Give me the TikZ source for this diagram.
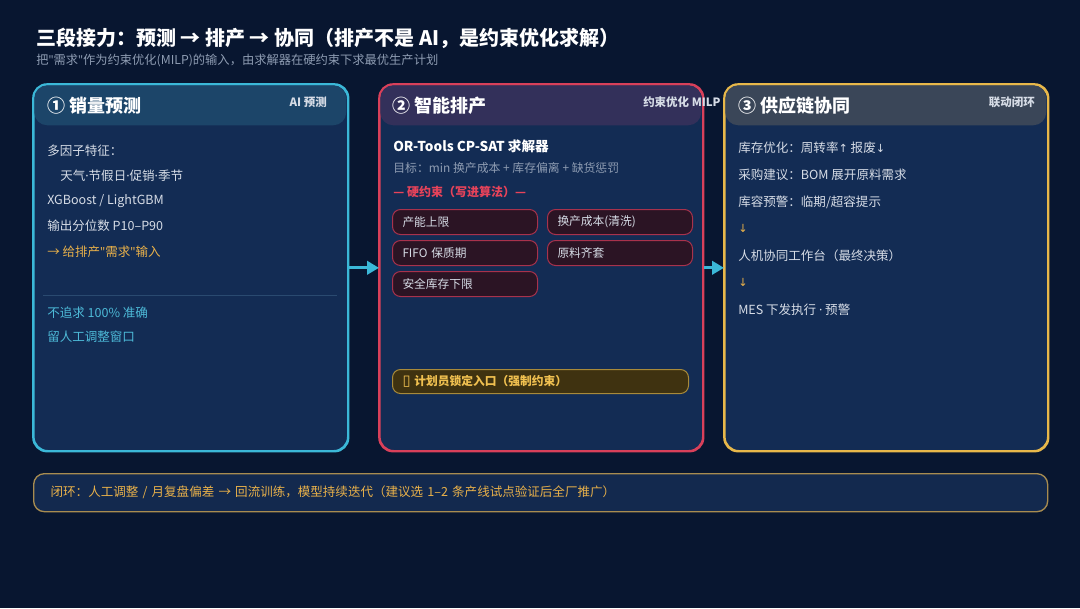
\documentclass[tikz,border=0pt]{standalone}
\usepackage{fontspec}
\setmainfont{Noto Sans CJK SC}
\newfontfamily\dejavu{DejaVu Sans}
\newfontfamily\latin{Noto Sans}
\newcommand\dq{{\latin\char"22\relax}}
\newcommand\md{{\latin ·}}
\usetikzlibrary{arrows.meta}
\definecolor{bg}{HTML}{081630}
\definecolor{cardfill}{HTML}{132C54}
\definecolor{hdrA}{HTML}{1C4569}
\definecolor{hdrB}{HTML}{33305A}
\definecolor{hdrC}{HTML}{3A4658}
\definecolor{bcyan}{HTML}{3BB8D8}
\definecolor{bred}{HTML}{D9405A}
\definecolor{bamber}{HTML}{E8B84A}
\definecolor{bodytxt}{HTML}{D6DCE6}
\definecolor{ambertxt}{HTML}{E9B14A}
\definecolor{cyantxt}{HTML}{4DBAD8}
\definecolor{graytxt}{HTML}{8E9CB2}
\definecolor{redtxt}{HTML}{E8435A}
\definecolor{pillfill}{HTML}{2B1424}
\definecolor{pillborder}{HTML}{A8324C}
\definecolor{lockfill}{HTML}{3F3210}
\definecolor{lockborder}{HTML}{A88A3A}
\definecolor{locktxt}{HTML}{F0C050}
\definecolor{bannerfill}{HTML}{13294E}
\definecolor{bannerborder}{HTML}{A88C50}
\definecolor{septxt}{HTML}{2A4A70}
\begin{document}
\begin{tikzpicture}[x=0.75pt,y=-0.75pt,
  card/.style={line width=1.2pt, rounded corners=10.5pt, fill=cardfill, anchor=north west,
    minimum height=274.5pt, inner sep=0pt},
  hdr/.style={rounded corners=9.75pt, anchor=north west, minimum height=30pt, minimum width=234pt, inner sep=0pt},
  ctitle/.style={anchor=west, inner sep=0pt, text=white, font=\fontsize{13.5}{16}\selectfont\bfseries},
  ctag/.style={anchor=east, inner sep=0pt, text=bodytxt, font=\fontsize{8.6}{10}\selectfont\bfseries},
  txt/.style={anchor=west, inner sep=0pt, text=bodytxt, font=\fontsize{9.4}{11}\selectfont},
  pill/.style={draw=pillborder, fill=pillfill, line width=0.75pt, rounded corners=6pt, anchor=north west,
    minimum height=18.75pt, inner xsep=7.5pt, inner ysep=0pt, text width=93.75pt, align=left,
    text=bodytxt, font=\fontsize{8.8}{10}\selectfont},
  flow/.style={draw=bcyan, line width=2.2pt, -{Triangle[length=9pt,width=10pt]}}
]
\fill[bg] (0,0) rectangle (1080,608);
\useasboundingbox (0,0) rectangle (1080,608);

% title
\node[anchor=west, inner sep=0pt, text=white, font=\fontsize{15}{18}\selectfont\bfseries] (title) at (36,38)
  {三段接力：预测 → 排产 → 协同（排产不是 AI，是约束优化求解）};
\node[anchor=west, inner sep=0pt, text=graytxt, font=\fontsize{9.2}{11}\selectfont] (subtitle) at (36,61)
  {把\dq 需求\dq 作为约束优化(MILP)的输入，由求解器在硬约束下求最优生产计划};

% cards
\node[card, draw=bcyan, minimum width=235.5pt] (c1) at (33,84) {};
\node[card, draw=bred, minimum width=242.25pt] (c2) at (379,84) {};
\node[card, draw=bamber, minimum width=242.25pt] (c3) at (724,84) {};

% headers
\node[hdr, fill=hdrA] (h1) at (34,85) {};
\node[hdr, fill=hdrB, minimum width=240.75pt] (h2) at (380,85) {};
\node[hdr, fill=hdrC, minimum width=240.75pt] (h3) at (725,85) {};
\draw[bcyan, line width=1.2pt, rounded corners=10.5pt] (c1.south west) rectangle (c1.north east);
\draw[bred, line width=1.2pt, rounded corners=10.5pt] (c2.south west) rectangle (c2.north east);
\draw[bamber, line width=1.2pt, rounded corners=10.5pt] (c3.south west) rectangle (c3.north east);

\node[ctitle] (t1) at (47,106) {① 销量预测};
\node[ctag] (g1) at (327,102) {AI 预测};
\node[ctitle] (t2) at (392,106) {② 智能排产};
\node[ctag, anchor=west] (g2) at (643,102) {约束优化 MILP};
\node[ctitle] (t3) at (738,106) {③ 供应链协同};
\node[ctag] (g3) at (1035,102) {联动闭环};

% card 1 body
\node[txt] (a1) at (47,151) {多因子特征：};
\node[txt] (a2) at (60,176) {天气\md 节假日\md 促销\md 季节};
\node[txt] (a3) at (47,201) {XGBoost / LightGBM};
\node[txt] (a4) at (47,226) {输出分位数 P10–P90};
\node[txt, text=ambertxt] (a5) at (47,252) {→ 给排产\dq 需求\dq 输入};
\draw[septxt, line width=0.75pt] (43,295) -- (337,295);
\node[txt, text=cyantxt] (a6) at (47,313) {不追求 100\% 准确};
\node[txt, text=cyantxt] (a7) at (47,337) {留人工调整窗口};

% card 2 body
\node[txt, text=white, font=\fontsize{10.2}{12}\selectfont\bfseries] (b1) at (393,146) {OR-Tools CP-SAT 求解器};
\node[txt, text=graytxt, font=\fontsize{8.9}{10}\selectfont] (b2) at (393,168) {目标：min 换产成本 + 库存偏离 + 缺货惩罚};
\node[txt, text=redtxt, font=\fontsize{9}{11}\selectfont\bfseries] (b3) at (393,192) {— 硬约束（写进算法）—};
\node[pill] (p1) at (392,209) {产能上限};
\node[pill] (p2) at (547,209) {换产成本(清洗)};
\node[pill] (p3) at (392,240) {FIFO 保质期};
\node[pill] (p4) at (547,240) {原料齐套};
\node[pill] (p5) at (392,271) {安全库存下限};
\node[pill, draw=lockborder, fill=lockfill, text=locktxt, minimum height=18pt, text width=207pt,
  font=\fontsize{8.8}{10}\selectfont\bfseries] (lock) at (392,369) {{\dejavu\mdseries\fontsize{11}{10}\selectfont ▯} 计划员锁定入口（强制约束）};

% card 3 body
\node[txt] (d1) at (738,148) {库存优化：周转率{\dejavu\fontsize{8.4}{10}\selectfont ↑} 报废{\dejavu\fontsize{8.4}{10}\selectfont ↓}};
\node[txt] (d2) at (738,175) {采购建议：BOM 展开原料需求};
\node[txt] (d3) at (738,202) {库容预警：临期/超容提示};
\node[txt, text=ambertxt, font=\dejavu\fontsize{8.4}{10}\selectfont] (d4) at (738,228) {↓};
\node[txt] (d5) at (738,256) {人机协同工作台（最终决策）};
\node[txt, text=ambertxt, font=\dejavu\fontsize{8.4}{10}\selectfont] (d6) at (738,282) {↓};
\node[txt] (d7) at (738,310) {MES 下发执行 {\latin ·} 预警};

% arrows
\draw[flow] (c1.east) -- (c2.west);
\draw[flow] (c2.east) -- (c3.west);

% banner
\node[draw=bannerborder, fill=bannerfill, line width=1pt, rounded corners=8pt, anchor=north west,
  minimum width=760.5pt, minimum height=28.5pt, inner xsep=12.75pt, inner ysep=0pt, text width=735pt,
  align=left, text=ambertxt, font=\fontsize{9.4}{11}\selectfont] (banner) at (33,473)
  {闭环：人工调整 / 月复盘偏差 → 回流训练，模型持续迭代（建议选 1–2 条产线试点验证后全厂推广）};
\end{tikzpicture}
\end{document}
